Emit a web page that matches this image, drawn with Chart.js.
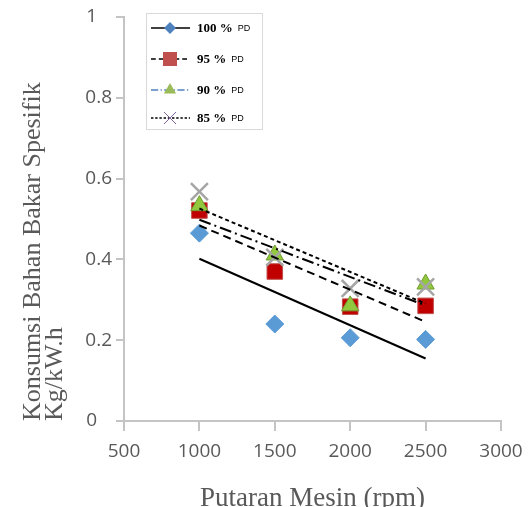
<!DOCTYPE html>
<html>
<head>
<meta charset="utf-8">
<script src="https://cdn.jsdelivr.net/npm/chart.js@4.4.1/dist/chart.umd.min.js"></script>
<style>
  html, body { margin: 0; padding: 0; background: #fff; }
  #wrap { position: relative; width: 532px; height: 507px; }
</style>
</head>
<body>
<div id="wrap"><canvas id="sfcChart"></canvas></div>
<script>
"use strict";

// data
const rpm    = [1000, 1500, 2000, 2500];
const pd100  = [0.465, 0.240, 0.206, 0.202];
const pd95   = [0.521, 0.370, 0.283, 0.285];
const pd90   = [0.533, 0.411, 0.285, 0.339];
const pd85   = [0.568, 0.405, 0.328, 0.332];
const seriesLabels = ["100 %", "95 %", "90 %", "85 %"];
const labelSuffix  = "PD";
const xTicks = [500, 1000, 1500, 2000, 2500, 3000];
const yTicks = [0, 0.2, 0.4, 0.6, 0.8, 1];

const AXIS_GRAY = "#c4c4c4";
const TEXT_GRAY = "#595959";

// least-squares trend line, like the spreadsheet's linear trendline
function linearFit(xs, ys) {
  const n = xs.length;
  const mx = xs.reduce((a, b) => a + b, 0) / n;
  const my = ys.reduce((a, b) => a + b, 0) / n;
  let sxy = 0, sxx = 0;
  xs.forEach((x, i) => { sxy += (x - mx) * (ys[i] - my); sxx += (x - mx) * (x - mx); });
  const slope = sxy / sxx;
  const x0 = xs[0], x1 = xs[n - 1];
  return [
    { x: x0, y: my + slope * (x0 - mx) },
    { x: x1, y: my + slope * (x1 - mx) },
  ];
}

const toPoints = (ys) => rpm.map((x, i) => ({ x, y: ys[i] }));

const SERIES = [
  { data: pd100, style: "rectRot",  radius: 9,  fill: "#5b9bd5", border: "#5b9bd5", bw: 1,
    dash: [],          legendMarker: "#4f81bd", legendLine: "#000" },
  { data: pd95,  style: "rect",     radius: 11, fill: "#c00000", border: "#c0504d", bw: 1,
    dash: [8, 5],      legendMarker: "#c0504d", legendLine: "#000" },
  { data: pd90,  style: "triangle", radius: 10, fill: "#92c83e", border: "#6f9a2e", bw: 1,
    dash: [12, 4, 2, 4], legendMarker: "#9bbb59", legendLine: "#4f81bd" },
  { data: pd85,  style: "crossRot", radius: 12, fill: "#a5a5a5", border: "#a5a5a5", bw: 2.5,
    dash: [4, 3],      legendMarker: "#8064a2", legendLine: "#000" },
];

const datasets = [];
SERIES.forEach((s, i) => {
  datasets.push({
    label: seriesLabels[i],
    data: toPoints(s.data),
    pointStyle: s.style,
    pointRadius: s.radius,
    pointBackgroundColor: s.fill,
    pointBorderColor: s.border,
    pointBorderWidth: s.bw,
    showLine: false,
    order: 10 - i,
  });
});
SERIES.forEach((s, i) => {
  datasets.push({
    label: seriesLabels[i] + " trend",
    data: linearFit(rpm, s.data),
    showLine: true,
    pointRadius: 0,
    borderColor: "#000",
    borderWidth: 2,
    borderDash: s.dash,
    fill: false,
    order: 1,
  });
});

function drawMarker(ctx, style, x, y, r, fill, stroke) {
  ctx.save();
  ctx.fillStyle = fill;
  ctx.strokeStyle = stroke;
  ctx.beginPath();
  if (style === "rectRot") {
    ctx.moveTo(x, y - r); ctx.lineTo(x + r, y); ctx.lineTo(x, y + r); ctx.lineTo(x - r, y);
    ctx.closePath(); ctx.fill();
  } else if (style === "rect") {
    ctx.rect(x - r, y - r, 2 * r, 2 * r); ctx.fill();
  } else if (style === "triangle") {
    ctx.moveTo(x, y - r); ctx.lineTo(x + r * 0.87, y + r * 0.5); ctx.lineTo(x - r * 0.87, y + r * 0.5);
    ctx.closePath(); ctx.fill();
  } else {
    ctx.lineWidth = 1;
    ctx.moveTo(x - r, y - r); ctx.lineTo(x + r, y + r);
    ctx.moveTo(x + r, y - r); ctx.lineTo(x - r, y + r);
    ctx.stroke();
  }
  ctx.restore();
}

// legend box sitting inside the plot, top-left
const boxLegend = {
  id: "boxLegend",
  afterDraw(chart) {
    const ctx = chart.ctx;
    const box = { x: 146, y: 13, w: 116, h: 116 };
    const rows = [28, 59, 90, 118];
    ctx.save();
    ctx.fillStyle = "#fff";
    ctx.fillRect(box.x, box.y, box.w, box.h);
    ctx.strokeStyle = "#d9d9d9";
    ctx.lineWidth = 1;
    ctx.strokeRect(box.x + 0.5, box.y + 0.5, box.w, box.h);

    const sizes = [6, 7, 7, 6];
    SERIES.forEach((s, i) => {
      const y = rows[i];
      ctx.save();
      ctx.strokeStyle = s.legendLine;
      ctx.lineWidth = 1.5;
      ctx.setLineDash(s.dash.map((d) => d * 0.6));
      ctx.beginPath();
      ctx.moveTo(151, y); ctx.lineTo(190, y);
      ctx.stroke();
      ctx.restore();
      drawMarker(ctx, s.style, 170, y, sizes[i], s.legendMarker, s.legendMarker);

      ctx.fillStyle = "#000";
      ctx.textBaseline = "middle";
      ctx.font = "bold 13px 'Liberation Serif', serif";
      ctx.fillText(seriesLabels[i], 197, y + 1);
      const w = ctx.measureText(seriesLabels[i]).width;
      ctx.font = "9px 'Liberation Sans', sans-serif";
      ctx.fillText(labelSuffix, 197 + w + 5, y + 1);
    });
    ctx.restore();
  },
};

new Chart(document.getElementById("sfcChart"), {
  type: "scatter",
  data: { datasets },
  options: {
    responsive: true,
    maintainAspectRatio: false,
    animation: false,
    layout: { padding: { top: 17, right: 31, left: 0, bottom: 0 } },
    plugins: {
      legend: { display: false },
      tooltip: { enabled: false },
    },
    scales: {
      x: {
        type: "linear",
        min: 500,
        max: 3000,
        afterBuildTicks: (axis) => { axis.ticks = xTicks.map((v) => ({ value: v })); },
        afterFit: (scale) => { scale.height = 86; },
        border: { color: AXIS_GRAY, width: 2 },
        grid: { drawOnChartArea: false, drawTicks: true, tickLength: 10, color: AXIS_GRAY, lineWidth: 2 },
        ticks: {
          color: TEXT_GRAY,
          padding: 9,
          maxRotation: 0,
          font: { family: "'Open Sans', sans-serif", size: 19 },
          callback: (v) => String(v),
        },
        title: {
          display: true,
          text: "Putaran Mesin (rpm)",
          color: TEXT_GRAY,
          font: { family: "'Liberation Serif', 'Times New Roman', serif", size: 27, lineHeight: 0.6 },
          padding: { top: 0, bottom: 0 },
        },
      },
      y: {
        type: "linear",
        min: 0,
        max: 1,
        afterBuildTicks: (axis) => { axis.ticks = yTicks.map((v) => ({ value: v })); },
        afterFit: (scale) => { scale.width = 124; },
        border: { color: AXIS_GRAY, width: 2 },
        grid: { drawOnChartArea: false, drawTicks: true, tickLength: 8, color: AXIS_GRAY, lineWidth: 2 },
        ticks: {
          color: TEXT_GRAY,
          padding: 4,
          font: { family: "'Open Sans', sans-serif", size: 19 },
          // labels sit flush left in the original, so short ones get trailing room
          callback: (v) => (String(v).length === 1 ? String(v) + "   " : String(v)),
        },
        title: {
          display: true,
          align: "start",
          text: ["Konsumsi Bahan Bakar Spesifik", "Kg/kW.h"],
          color: TEXT_GRAY,
          font: { family: "'Liberation Serif', 'Times New Roman', serif", size: 26, lineHeight: 0.85 },
          padding: { top: 22, bottom: 0 },
        },
      },
    },
  },
  plugins: [boxLegend],
});
</script>
</body>
</html>
